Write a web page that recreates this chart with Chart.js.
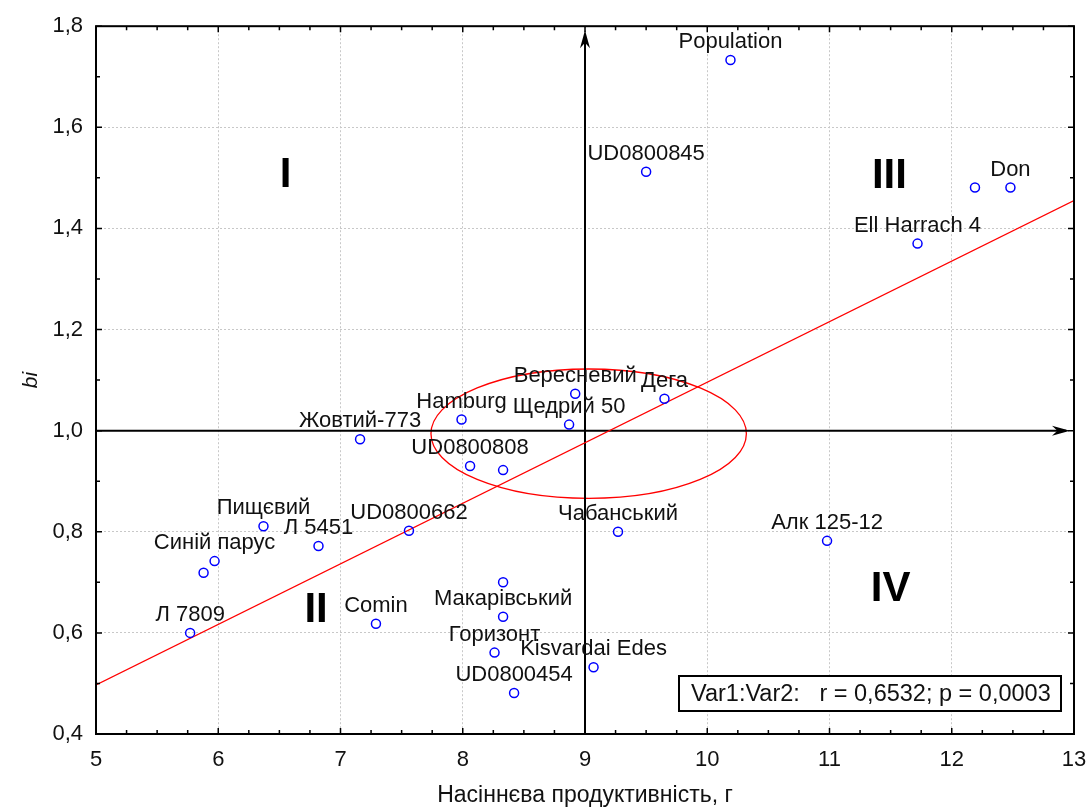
<!DOCTYPE html>
<html>
<head>
<meta charset="utf-8">
<script src="https://cdn.jsdelivr.net/npm/chart.js@4.4.1/dist/chart.umd.min.js"></script>
<style>
  html, body { margin: 0; padding: 0; background: #fff; }
</style>
</head>
<body>
<canvas id="scatter" width="1088" height="809"></canvas>
<script>
// ---- data
const names = ['Population', 'UD0800845', '', 'Don', 'Ell Harrach 4', 'Вересневий', 'Дега', 'Hamburg',
  'Щедрий 50', 'Жовтий-773', 'UD0800808', '', 'Чабанський', 'Алк 125-12', 'Пищєвий', 'Л 5451',
  'UD0800662', 'Синій парус', '', 'Л 7809', 'Comin', '', 'Макарівський', 'Горизонт', 'Kisvardai Edes', 'UD0800454'];
const seedYield = [10.19, 9.50, 12.19, 12.48, 11.72, 8.92, 9.65, 7.99,
  8.87, 7.16, 8.06, 8.33, 9.27, 10.98, 6.37, 6.82,
  7.56, 5.97, 5.88, 5.77, 7.29, 8.33, 8.33, 8.26, 9.07, 8.42];
const bi = [1.733, 1.512, 1.481, 1.481, 1.370, 1.073, 1.063, 1.022,
  1.012, 0.983, 0.930, 0.922, 0.800, 0.782, 0.811, 0.772,
  0.802, 0.742, 0.719, 0.600, 0.618, 0.700, 0.632, 0.561, 0.532, 0.481];

// regression line ends
const fitX = [5, 13];
const fitY = [0.497, 1.455];

// confidence ellipse: centre and half-axes (data units)
const ellipseCenter = [9.03, 0.994];
const ellipseRadius = [1.29, 0.128];

// quadrant numerals
const quadNames = ['I', 'II', 'III', 'IV'];
const quadX = [6.55, 6.80, 11.49, 11.50];
const quadY = [1.504, 0.644, 1.502, 0.685];

const statsText = 'Var1:Var2:   r = 0,6532; p = 0,0003';
const crossX = 9;
const crossY = 1.0;

const FONT = "'Liberation Sans', Arial, sans-serif";
const INK = '#111';

function arrow(ctx, tipX, tipY, dx, dy) {
  // dx,dy = unit direction of the arrow
  const len = 18, half = 5;
  const bx = tipX - dx * len, by = tipY - dy * len;
  const nx = -dy, ny = dx;
  ctx.beginPath();
  ctx.moveTo(tipX, tipY);
  ctx.lineTo(bx + nx * half, by + ny * half);
  ctx.lineTo(tipX - dx * len * 0.7, tipY - dy * len * 0.7);
  ctx.lineTo(bx - nx * half, by - ny * half);
  ctx.closePath();
  ctx.fill();
}

const decor = {
  id: 'decor',
  beforeDatasetsDraw(chart) {
    const {ctx, chartArea: a, scales: {x, y}} = chart;
    ctx.save();
    // ellipse
    const cx = x.getPixelForValue(ellipseCenter[0]);
    const cy = y.getPixelForValue(ellipseCenter[1]);
    const rx = x.getPixelForValue(ellipseCenter[0] + ellipseRadius[0]) - cx;
    const ry = cy - y.getPixelForValue(ellipseCenter[1] + ellipseRadius[1]);
    ctx.strokeStyle = '#ff0000';
    ctx.lineWidth = 1.3;
    ctx.beginPath();
    ctx.ellipse(cx, cy, rx, ry, 0, 0, 2 * Math.PI);
    ctx.stroke();

    // cross axes with arrows
    const vx = x.getPixelForValue(crossX);
    const hy = y.getPixelForValue(crossY);
    ctx.strokeStyle = '#000';
    ctx.fillStyle = '#000';
    ctx.lineWidth = 2;
    ctx.beginPath();
    ctx.moveTo(vx, a.bottom);
    ctx.lineTo(vx, a.top + 8);
    ctx.moveTo(a.left, hy);
    ctx.lineTo(a.right - 8, hy);
    ctx.stroke();
    arrow(ctx, vx, a.top + 4, 0, -1);
    arrow(ctx, a.right - 4, hy, 1, 0);
    ctx.restore();
  },
  afterDatasetsDraw(chart) {
    const {ctx, chartArea: a, scales: {x, y}} = chart;
    ctx.save();

    // point labels
    const meta = chart.getDatasetMeta(0);
    ctx.font = '22px ' + FONT;
    ctx.fillStyle = INK;
    ctx.textAlign = 'center';
    ctx.textBaseline = 'middle';
    meta.data.forEach((pt, i) => {
      if (names[i]) ctx.fillText(names[i], pt.x, pt.y - 18);
    });

    // quadrant numerals
    ctx.font = 'bold 42px ' + FONT;
    ctx.fillStyle = '#000';
    quadNames.forEach((q, i) => {
      ctx.fillText(q, x.getPixelForValue(quadX[i]), y.getPixelForValue(quadY[i]));
    });

    // inward ticks on all four sides
    ctx.strokeStyle = '#000';
    ctx.lineWidth = 1.5;
    ctx.beginPath();
    for (let i = 20; i <= 52; i++) {
      const px = x.getPixelForValue(i / 4);
      const l = i % 4 === 0 ? 6 : 4;
      ctx.moveTo(px, a.bottom); ctx.lineTo(px, a.bottom - l);
      ctx.moveTo(px, a.top); ctx.lineTo(px, a.top + l);
    }
    for (let i = 4; i <= 18; i++) {
      const py = y.getPixelForValue(i / 10);
      const l = i % 2 === 0 ? 6 : 4;
      ctx.moveTo(a.left, py); ctx.lineTo(a.left + l, py);
      ctx.moveTo(a.right, py); ctx.lineTo(a.right - l, py);
    }
    ctx.stroke();

    // frame
    ctx.lineWidth = 2;
    ctx.strokeRect(a.left, a.top, a.right - a.left, a.bottom - a.top);

    // stats box
    const bw = 382, bh = 35;
    const bx = a.right - 13 - bw, by = a.bottom - 23 - bh;
    ctx.fillStyle = '#fff';
    ctx.fillRect(bx, by, bw, bh);
    ctx.lineWidth = 2;
    ctx.strokeRect(bx, by, bw, bh);
    ctx.font = '23.5px ' + FONT;
    ctx.fillStyle = INK;
    ctx.textAlign = 'left';
    ctx.fillText(statsText, bx + 12, by + bh / 2 + 1);
    ctx.restore();
  }
};

const ctx = document.getElementById('scatter').getContext('2d');

const config = {
  type: 'scatter',
  data: {
    datasets: [{
      label: 'points',
      data: seedYield.map((v, i) => ({x: v, y: bi[i]})),
      pointStyle: 'circle',
      pointRadius: 4.5,
      pointBorderWidth: 1.5,
      borderColor: '#0000ff',
      backgroundColor: 'rgba(255,255,255,0)',
      order: 0
    }, {
      label: 'fit',
      type: 'line',
      data: fitX.map((v, i) => ({x: v, y: fitY[i]})),
      borderColor: '#ff0000',
      borderWidth: 1.3,
      pointRadius: 0,
      fill: false,
      order: 1
    }]
  },
  options: {
    responsive: false,
    animation: false,
    events: [],
    layout: { padding: { top: 22, right: 3, left: 0, bottom: 0 } },
    plugins: { legend: { display: false }, tooltip: { enabled: false } },
    scales: {
      x: {
        type: 'linear',
        min: 5,
        max: 13,
        afterFit(scale) {
          scale.height = 75;
          // "13" may hang past the frame, as in the original
          scale.paddingLeft = 0;
          scale.paddingRight = 14;
        },
        ticks: { stepSize: 1, color: INK, font: { family: FONT, size: 22 }, padding: 13, maxRotation: 0 },
        grid: { color: '#c8c8c8', lineWidth: 1, drawTicks: false },
        border: { display: false, dash: [2, 2] },
        title: { display: true, text: 'Насіннєва продуктивність, г', color: INK,
                 font: { family: FONT, size: 23 }, padding: { top: 0, bottom: 0 } }
      },
      y: {
        type: 'linear',
        min: 0.4,
        max: 1.8,
        afterFit(scale) { scale.width = 96; },
        ticks: {
          stepSize: 0.2, color: INK, font: { family: FONT, size: 22 }, padding: 13,
          callback: v => v.toFixed(1).replace('.', ',')
        },
        grid: { color: '#c8c8c8', lineWidth: 1, drawTicks: false },
        border: { display: false, dash: [2, 2] },
        title: { display: true, text: 'bi', color: INK,
                 font: { family: FONT, size: 21, style: 'italic' }, padding: { top: 19, bottom: 0 } }
      }
    }
  },
  plugins: [decor]
};

const myChart = new Chart(ctx, config);
</script>
</body>
</html>
